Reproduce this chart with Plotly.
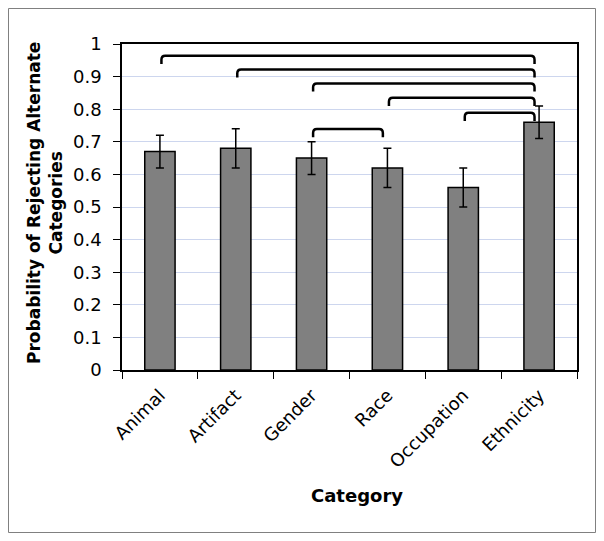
import plotly.graph_objects as go

categories = ["Animal", "Artifact", "Gender", "Race", "Occupation", "Ethnicity"]
values = [0.67, 0.68, 0.65, 0.62, 0.56, 0.76]
errors = [0.05, 0.06, 0.05, 0.06, 0.06, 0.05]
y_ticks = [0, 0.1, 0.2, 0.3, 0.4, 0.5, 0.6, 0.7, 0.8, 0.9, 1]

# significance brackets: (left category index, right category index, bracket height)
bracket_left = [0, 1, 2, 3, 4, 2]
bracket_right = [5, 5, 5, 5, 5, 3]
bracket_height = [0.964, 0.922, 0.879, 0.835, 0.789, 0.739]

FONT = "DejaVu Sans"
xs = list(range(len(categories)))

# page body has an 8px margin; layout in page pixels -> figure pixels
OFF = 8
W, H = 604 - OFF, 541 - OFF
L, R, T, B = 122 - OFF, 577 - OFF, 44 - OFF, 370 - OFF
pw, ph = R - L, B - T


def px_x(p):  # page px -> paper x
    return (p - OFF - L) / pw


def px_y(p):  # page px -> paper y
    return (B - (p - OFF)) / ph


fig = go.Figure()
fig.add_trace(go.Bar(
    x=xs, y=values, width=0.4,
    marker=dict(color="#808080", line=dict(color="black", width=1.5)),
    error_y=dict(type="data", array=errors, color="black", thickness=1.5, width=4),
    showlegend=False,
))

shapes = []
drop = 0.025
rx, ry = 0.05, 0.012
for l, r, h in zip(bracket_left, bracket_right, bracket_height):
    x1 = l + 0.02
    x2 = r - 0.06
    path = (f"M {x1},{h-drop} L {x1},{h-ry} Q {x1},{h} {x1+rx},{h} "
            f"L {x2-rx},{h} Q {x2},{h} {x2},{h-ry} L {x2},{h-drop}")
    shapes.append(dict(type="path", path=path, xref="x", yref="y",
                       line=dict(color="black", width=2.5)))

# outer chart border
shapes.append(dict(type="rect", xref="paper", yref="paper",
                   x0=px_x(8.5), x1=px_x(595.5), y0=px_y(532.5), y1=px_y(8.5),
                   line=dict(color="#808080", width=1), layer="below"))

fig.update_layout(
    width=W, height=H,
    margin=dict(l=L, r=W - R, t=T, b=H - B),
    paper_bgcolor="white", plot_bgcolor="white",
    font=dict(family=FONT, color="black", size=18),
    shapes=shapes,
    bargap=0.6,
)
fig.update_xaxes(
    range=[-0.5, 5.5], tickvals=xs, ticktext=categories, ticks="",
    tickangle=-45, tickfont=dict(size=18, family=FONT), ticklabelstandoff=6,
    showline=True, linecolor="black", linewidth=1.5, mirror=True,
    showgrid=False, zeroline=False,
    minor=dict(tickvals=[i - 0.5 for i in range(len(categories) + 1)],
               ticks="outside", ticklen=7, tickcolor="black", tickwidth=1, showgrid=False),
)
fig.update_yaxes(
    range=[0, 1], tickvals=y_ticks, ticktext=[f"{v:g}" for v in y_ticks],
    ticks="outside", ticklen=7, tickcolor="black", tickwidth=1,
    tickfont=dict(size=18, family=FONT), ticklabelstandoff=8,
    showline=True, linecolor="black", linewidth=1.5, mirror=True,
    showgrid=True, gridcolor="#cdd6ee", gridwidth=1, zeroline=False,
)
fig.add_annotation(
    text="<b>Probability of Rejecting Alternate<br>Categories</b>",
    xref="paper", yref="paper", x=px_x(45), y=px_y(203),
    xanchor="center", yanchor="middle", textangle=-90, showarrow=False,
    font=dict(size=17, family=FONT),
)
fig.add_annotation(
    text="<b>Category</b>",
    xref="paper", yref="paper", x=px_x(357), y=px_y(495),
    xanchor="center", yanchor="middle", showarrow=False,
    font=dict(size=18, family=FONT),
)
fig.write_html("out.html")
